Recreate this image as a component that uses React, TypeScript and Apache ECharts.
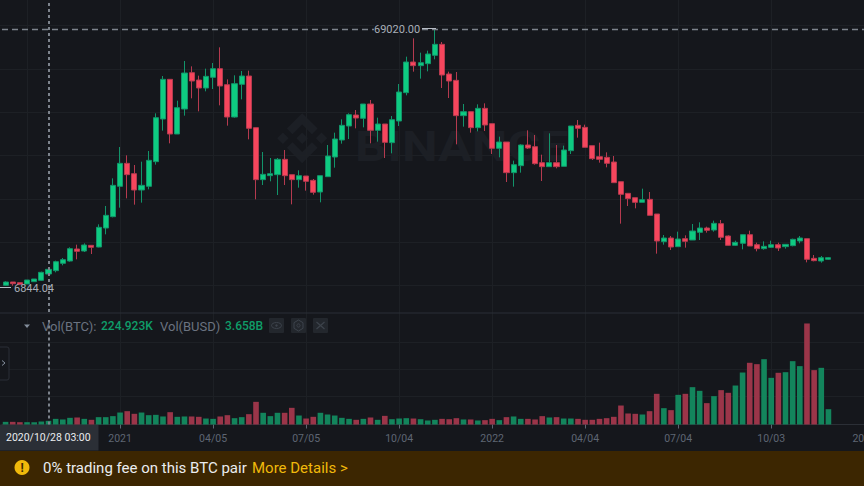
import React, { useEffect, useRef } from "react";
import * as echarts from "echarts";

const opens = [7500,8300,8140,7820,8380,8700,10220,11020,12780,13340,16220,15740,17100,16700,21260,23980,31260,36780,34300,30380,31260,37180,47420,56940,43820,49820,58540,56780,54860,57420,59500,55660,47900,55740,57740,45340,32860,33820,34060,37740,34060,32860,33740,32700,29900,33580,38300,42380,45740,48380,47580,51020,44700,46220,41740,46940,53740,61100,60220,60700,62700,65340,58220,56700,48220,49180,45340,49980,46300,40380,41900,34540,36220,41180,40780,36940,35980,36940,36060,39820,45900,45420,41020,38380,38220,37100,32380,29580,28540,27420,28140,24620,17980,18860,16780,18700,18380,20220,21260,20780,22300,19340,17100,17580,19660,17260,16300,16620,17260,16780,17020,18140,18700,13980,13340,13740];
const closes = [8300,7900,7740,8780,9020,10620,11340,13180,13660,16300,15660,17180,16620,21420,24300,31500,36780,34060,30380,31500,37500,47740,56940,43820,50140,58460,56540,54860,57660,59500,55340,47900,55900,57740,45180,32860,34140,34300,37740,33820,32860,33820,32460,29820,33820,38540,42620,45900,48460,47660,51020,44700,46220,41820,47260,53900,61100,60220,60940,63020,65340,57980,56540,48220,49180,45340,49980,45980,40380,41900,34540,36460,41180,40460,36700,35980,36940,35980,39980,45740,45180,40620,37900,37740,36780,32140,29340,28300,27420,28060,24300,18140,18860,16700,18620,18060,20540,21260,20700,22380,19020,17100,17820,19660,16940,16300,16860,17260,16460,17340,18540,18860,13740,13420,14140,14140];
const highs = [8460,8300,8140,8780,9020,10780,11580,13420,14060,16620,17260,17580,17100,22140,26540,33180,40700,38700,36380,37180,39740,48780,57740,56940,51820,61340,60060,57820,59500,60860,64620,56940,57900,58940,59020,45340,39500,38060,38060,39980,34060,35100,33740,33020,33820,41180,44140,47340,48780,49580,51020,51980,47740,46220,48140,55820,62380,66780,63340,63820,69020,65900,58780,58700,51020,49180,50940,51180,46300,43180,41900,37420,41340,44700,43580,38860,43980,41180,41020,45740,47180,46060,41020,41740,39420,38540,32380,29580,28540,30700,29900,24620,19580,19340,20380,19500,22220,22620,21580,23020,23180,19500,18220,19660,20620,17740,18060,18220,17740,17340,18700,19340,18700,14780,14540,14300];
const lows = [7340,7420,7580,7820,8380,8540,10060,10620,12300,13180,13740,15500,15020,16620,19740,23820,26140,28380,26860,27340,30540,36460,44620,41580,43820,48220,52380,49260,54060,54620,50700,45820,47740,52140,42540,28140,31580,32460,29180,31580,26940,30940,30220,29260,27420,33580,35740,41500,42620,45180,45420,41580,41980,38060,39180,45740,53100,58780,57100,58860,61740,54860,52460,41340,45580,44140,44460,44540,39020,38220,32300,31180,34540,40220,36460,32540,35980,35580,36060,39020,42940,40620,37580,36940,35820,32140,22300,26540,25980,27420,24300,15100,17260,15980,16780,16540,18380,18380,20140,20380,18380,17020,16940,16140,16940,15660,16060,16460,15740,16300,16860,17580,13020,13260,12940,13580];
const volumesK = [39,39,34,34,34,44,54,83,74,98,103,83,69,108,108,123,176,196,157,176,137,142,118,181,113,118,118,113,88,83,118,137,93,108,152,333,172,123,172,172,245,132,88,113,172,147,132,98,83,69,83,103,69,127,78,88,93,88,78,59,69,83,78,93,74,74,59,64,83,64,108,118,83,83,74,123,103,108,88,88,83,69,69,83,93,113,279,162,157,147,196,451,240,211,436,451,549,495,314,417,505,466,573,764,907,887,960,686,760,769,931,858,1485,799,833,225];

const tickLabels: Record<string, string> = {
  "2021-01-04": "2021", "2021-04-05": "04/05", "2021-07-05": "07/05", "2021-10-04": "10/04",
  "2022-01-03": "2022", "2022-04-04": "04/04", "2022-07-04": "07/04", "2022-10-03": "10/03",
  "2023-01-02": "2023",
};
const firstWeek = Date.UTC(2020, 8, 14);
const weekCount = 121;
const categories = Array.from({ length: weekCount }, (_, i) =>
  new Date(firstWeek + i * 7 * 86400000).toISOString().slice(0, 10));

const crosshairWeek = categories[6];
const highLabel = "69020.00";
const lowLabel = "6844.04";
const crosshairLabel = "2020/10/28 03:00";

const BG = "#15171c";
const GRID = "#1d2025";
const UP = "#0ecb81";
const DOWN = "#f6465d";
const UP_EDGE = "#12946a";
const DOWN_EDGE = "#b53a4f";
const UP_VOL = "#13855c";
const DOWN_VOL = "#9b3549";
const FONT = "Roboto, 'Noto Sans', sans-serif";

const LOGO = "M38.7 53L63 28.7L87.3 53L101.5 38.9L63 .5L24.6 38.9ZM.5 63L14.7 48.8L28.9 63L14.7 77.2ZM38.7 73L63 97.3L87.3 73L101.5 87.1L63 125.5L24.6 87.1ZM97.1 63L111.3 48.8L125.5 63L111.3 77.2ZM77.4 63L63 48.6L48.6 63L63 77.4Z";
echarts.graphic.registerShape("binanceLogo", echarts.graphic.extendPath(LOGO, {}) as any);

const isLabelled = (_: number, v: string) => v in tickLabels;
const dashV = { color: "#7d838c", type: [3, 3] as number[], width: 2 };
const dashH = { color: "#7d838c", type: [6, 4] as number[], width: 1.4 };

const text = (t: string, x: number, y: number, fill: string, font: string, extra: any = {}) => ({
  type: "text", z: 100, silent: true,
  style: { text: t, x, y, fill, font, verticalAlign: "middle", align: "left", ...extra },
});

function buildOption() {
  const hiddenAxis = { axisLine: { show: false }, axisTick: { show: false }, axisLabel: { show: false } };
  const line = { show: true, lineStyle: { color: GRID, width: 1 } };
  const free = { outerBoundsMode: "none" };
  return {
    animation: false,
    backgroundColor: BG,
    grid: [
      { ...free, left: 2, width: 865.8, top: 0, height: 312 },
      { ...free, left: 2, width: 865.8, top: 320, height: 104.5 },
      { ...free, left: 27, width: 837, top: 0, height: 424 },
      { ...free, left: 0, width: 864, top: 25.7, height: 260 },
      { ...free, left: 0, width: 864, top: 342, height: 82 },
    ],
    xAxis: [
      { type: "category", gridIndex: 0, data: categories, ...hiddenAxis, splitLine: { show: false } },
      {
        type: "category", gridIndex: 1, data: categories,
        axisLine: { show: true, lineStyle: { color: "#2b2f36" } },
        axisTick: { show: true, alignWithLabel: true, interval: isLabelled, length: 4, lineStyle: { color: "#5e6673" } },
        axisLabel: {
          show: true, interval: isLabelled, formatter: (v: string) => tickLabels[v] || "",
          color: "#5e6673", fontFamily: FONT, fontSize: 10.5, margin: 8,
        },
        splitLine: { show: false },
      },
      { type: "value", gridIndex: 2, min: 0, max: 9, interval: 1, ...hiddenAxis, splitLine: line },
      { type: "value", gridIndex: 3, min: 0, max: 1, interval: 1, ...hiddenAxis, splitLine: { show: false } },
      { type: "value", gridIndex: 4, min: 0, max: 1, interval: 1, ...hiddenAxis, splitLine: { show: false } },
    ],
    yAxis: [
      { type: "value", gridIndex: 0, min: 1100, max: 75980, ...hiddenAxis, splitLine: { show: false } },
      { type: "value", gridIndex: 1, min: 0, max: 1536, ...hiddenAxis, splitLine: { show: false } },
      { type: "value", gridIndex: 2, min: 0, max: 1, interval: 1, ...hiddenAxis, splitLine: { show: false } },
      { type: "value", gridIndex: 3, min: 0, max: 6, interval: 1, ...hiddenAxis, splitLine: line },
      { type: "value", gridIndex: 4, min: 0, max: 3, interval: 1, ...hiddenAxis, splitLine: line },
    ],
    series: [
      {
        type: "candlestick", xAxisIndex: 0, yAxisIndex: 0, barWidth: 5.6, clip: false,
        data: opens.map((o, i) => [o, closes[i], lows[i], highs[i]]),
        itemStyle: { color: UP, color0: DOWN, borderColor: UP_EDGE, borderColor0: DOWN_EDGE, borderWidth: 1 },
        markLine: {
          silent: true, symbol: "none", label: { show: false }, animation: false,
          data: [{ yAxis: highs[60], lineStyle: dashH }, { xAxis: crosshairWeek, lineStyle: dashV }],
        },
      },
      {
        type: "bar", xAxisIndex: 1, yAxisIndex: 1, barWidth: 5.6,
        data: volumesK.map((v, i) => ({
          value: v,
          itemStyle: { color: closes[i] >= opens[i] ? UP_VOL : DOWN_VOL },
        })),
        markLine: {
          silent: true, symbol: "none", label: { show: false }, animation: false, lineStyle: dashV,
          data: [{ xAxis: crosshairWeek }],
        },
      },
    ],
    graphic: [
      { type: "binanceLogo", z: 0, silent: true, x: 277, y: 113, scaleX: 0.4, scaleY: 0.4, style: { fill: "#1c1f25" } },
      {
        type: "text", z: 0, silent: true, x: 355, y: 147, scaleX: 1.2,
        style: { text: "BINANCE", x: 0, y: 0, fill: "#1c1f25", font: `bold 42px ${FONT}`, verticalAlign: "middle", align: "left" },
      },
      { type: "line", z: 100, silent: true, shape: { x1: 0, y1: 313, x2: 864, y2: 313 }, style: { stroke: "#2b2f36", lineWidth: 1 } },
      text(highLabel, 374, 29, "#a9afb8", `11px ${FONT}`, { backgroundColor: BG }),
      { type: "line", z: 100, silent: true, shape: { x1: 422, y1: 28.5, x2: 436, y2: 28.5 }, style: { stroke: "#b7bdc6", lineWidth: 1 } },
      { type: "line", z: 100, silent: true, shape: { x1: 0, y1: 287.5, x2: 11, y2: 287.5 }, style: { stroke: "#b7bdc6", lineWidth: 1 } },
      text(lowLabel, 14, 288, "#a9afb8", `11px ${FONT}`),

      { type: "polygon", z: 100, silent: true, shape: { points: [[24, 324.5], [30, 324.5], [27, 328]] }, style: { fill: "#848e9c" } },
      text("Vol(BTC):", 42, 326, "#6b7380", `13px ${FONT}`),
      text("224.923K", 101, 326, "#0f9d69", `500 12px ${FONT}`),
      text("Vol(BUSD)", 160, 326, "#6b7380", `13px ${FONT}`),
      text("3.658B", 225, 326, "#0f9d69", `500 12px ${FONT}`),

      { type: "rect", z: 100, silent: true, shape: { x: 269, y: 318, width: 15, height: 15, r: 1 }, style: { fill: "#23272d" } },
      { type: "ellipse", z: 100, silent: true, shape: { cx: 276.5, cy: 325.5, rx: 5, ry: 3 }, style: { fill: "none", stroke: "#3d434c", lineWidth: 1 } },
      { type: "circle", z: 100, silent: true, shape: { cx: 276.5, cy: 325.5, r: 1.2 }, style: { fill: "#3d434c" } },
      { type: "rect", z: 100, silent: true, shape: { x: 291, y: 318, width: 15, height: 15, r: 1 }, style: { fill: "#23272d" } },
      { type: "polygon", z: 100, silent: true, shape: { points: [[298.5, 320], [303, 322.7], [303, 328.3], [298.5, 331], [294, 328.3], [294, 322.7]] }, style: { fill: "none", stroke: "#3d434c", lineWidth: 1 } },
      { type: "circle", z: 100, silent: true, shape: { cx: 298.5, cy: 325.5, r: 1.6 }, style: { fill: "none", stroke: "#3d434c", lineWidth: 1 } },
      { type: "rect", z: 100, silent: true, shape: { x: 313, y: 318, width: 15, height: 15, r: 1 }, style: { fill: "#23272d" } },
      { type: "line", z: 100, silent: true, shape: { x1: 316.5, y1: 322, x2: 324.5, y2: 329 }, style: { stroke: "#3d434c", lineWidth: 1.2 } },
      { type: "line", z: 100, silent: true, shape: { x1: 324.5, y1: 322, x2: 316.5, y2: 329 }, style: { stroke: "#3d434c", lineWidth: 1.2 } },

      { type: "rect", z: 100, silent: true, shape: { x: -4, y: 347, width: 13, height: 33, r: 2 }, style: { fill: BG, stroke: "#2b2f36", lineWidth: 1 } },
      { type: "polyline", z: 100, silent: true, shape: { points: [[2, 360.5], [5, 363], [2, 365.5]] }, style: { fill: "none", stroke: "#848e9c", lineWidth: 1 } },

      { type: "rect", z: 100, silent: true, shape: { x: 0, y: 425, width: 98.5, height: 25.5 }, style: { fill: "#2b2f36" } },
      text(crosshairLabel, 6, 437.5, "#eaecef", `10.5px ${FONT}`),

      { type: "rect", z: 100, silent: true, shape: { x: 0, y: 451, width: 864, height: 35 }, style: { fill: "#3c2601" } },
      { type: "circle", z: 100, silent: true, shape: { cx: 22, cy: 467.5, r: 7.5 }, style: { fill: "#f0b90b" } },
      text("!", 22, 467.5, "#3c2601", `bold 12px ${FONT}`, { align: "center" }),
      text("0% trading fee on this BTC pair", 43, 468, "#eaecef", `15px ${FONT}`),
      text("More Details >", 252, 468, "#f0b90b", `15px ${FONT}`),
    ],
  };
}

export default function App() {
  const ref = useRef<HTMLDivElement>(null);
  useEffect(() => {
    const chart = echarts.init(ref.current!, undefined, { renderer: "svg" });
    chart.setOption(buildOption() as any);
    return () => chart.dispose();
  }, []);
  return <div ref={ref} style={{ position: "fixed", left: 0, top: 0, width: 864, height: 486 }} />;
}
